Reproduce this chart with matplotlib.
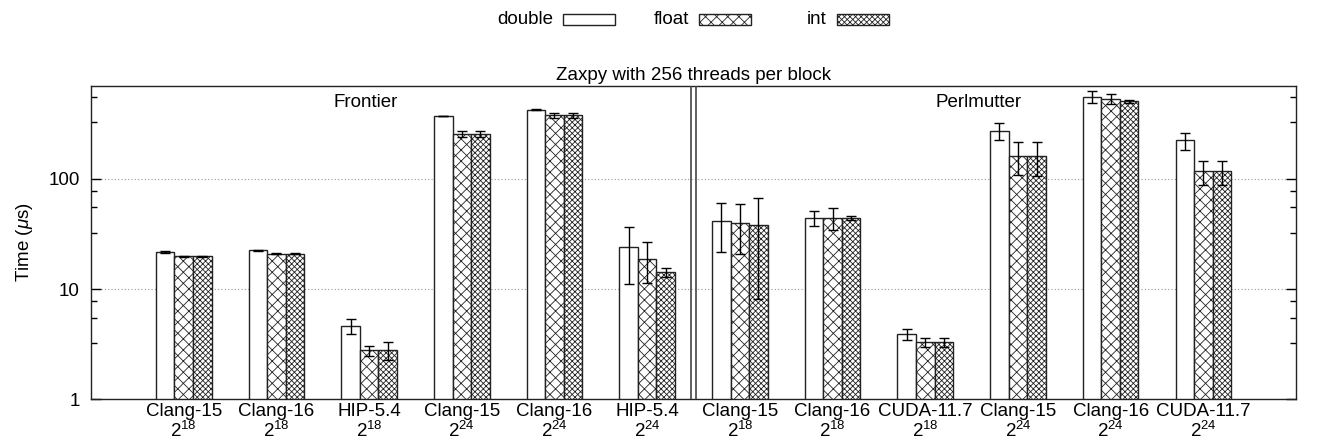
import numpy as np
import matplotlib
matplotlib.use("Agg")
import matplotlib.pyplot as plt
from matplotlib.patches import Rectangle

plt.rcParams.update({
    "font.family": ["Liberation Sans", "DejaVu Sans"],
    "font.size": 13.5,
    "mathtext.fontset": "custom",
    "mathtext.rm": "Liberation Sans",
    "mathtext.it": "Liberation Sans:italic",
    "mathtext.default": "regular",
    "hatch.linewidth": 0.6,
})

# ── data (log-scale microseconds)
compilers = ["Clang-15", "Clang-16", "HIP-5.4", "Clang-15", "Clang-16", "HIP-5.4",
             "Clang-15", "Clang-16", "CUDA-11.7", "Clang-15", "Clang-16", "CUDA-11.7"]
exponents = ["18", "18", "18", "24", "24", "24", "18", "18", "18", "24", "24", "24"]

double_mean = [21.7, 22.4, 4.61, 371, 424, 23.9, 41.2, 44.5, 3.90, 271, 556, 223]
double_lo = [21.4, 22.2, 3.92, 368, 420, 11.2, 21.7, 37.6, 3.44, 224, 490, 184]
double_hi = [22.0, 22.6, 5.37, 374, 428, 36.6, 60.0, 50.8, 4.30, 320, 622, 263]

float_mean = [19.8, 20.9, 2.79, 256, 376, 18.9, 39.8, 44.5, 3.30, 162, 530, 117]
float_lo = [19.6, 20.7, 2.49, 240, 359, 11.3, 20.8, 34.4, 3.00, 109, 476, 87.5]
float_hi = [20.0, 21.1, 3.07, 271, 392, 26.5, 59.3, 54.8, 3.63, 215, 589, 146]

int_mean = [19.9, 20.9, 2.79, 256, 376, 14.2, 38.2, 43.9, 3.30, 162, 505, 117]
int_lo = [19.7, 20.7, 2.28, 240, 359, 12.9, 8.2, 42.4, 3.00, 106, 484, 87.5]
int_hi = [20.1, 21.1, 3.30, 271, 392, 15.4, 67.6, 45.7, 3.63, 215, 523, 146]

series = [
    ("double", double_mean, double_lo, double_hi, ""),
    ("float", float_mean, float_lo, float_hi, "xxx"),
    ("int", int_mean, int_lo, int_hi, "xxxxxx"),
]

BAR_W = 0.2
EDGE = "#222222"
W, H = 1329, 443

fig = plt.figure(figsize=(W / 100, H / 100), dpi=100)
ax = fig.add_axes([0.0685, 0.0986, 0.9067, 0.708])

x = np.arange(len(compilers))
for i, (name, mean, lo, hi, hatch) in enumerate(series):
    mean = np.array(mean)
    yerr = [mean - np.array(lo), np.array(hi) - mean]
    ax.bar(x + (i - 1) * BAR_W, mean, BAR_W, color="white", edgecolor=EDGE,
           linewidth=1.0, hatch=hatch, label=name, zorder=2,
           yerr=yerr, error_kw=dict(ecolor="black", elinewidth=1.0,
                                    capsize=3.5, capthick=1.0, zorder=3))

ax.set_yscale("log")
ax.set_ylim(1, 700)
ax.set_xlim(-1, 12)

ax.set_xticks(x)
ax.set_xticklabels([f"{c}\n2$^{{{e}}}$" for c, e in zip(compilers, exponents)],
                   linespacing=1.0)
ax.tick_params(axis="x", length=0, pad=3)

ax.set_yticks([1, 10, 100])
ax.set_yticklabels(["1", "10", "100"])
minor = [m * d for d in (1, 10, 100) for m in (3.25, 5.5, 7.75)]
ax.set_yticks([v for v in minor if v < 700], minor=True)
ax.yaxis.set_minor_formatter(matplotlib.ticker.NullFormatter())
ax.tick_params(axis="y", which="major", direction="in", length=7, width=1,
               left=True, right=True, pad=8)
ax.tick_params(axis="y", which="minor", direction="in", length=4, width=1,
               left=True, right=True)

ax.grid(axis="y", which="major", linestyle=(0, (1, 2)), color="#999999",
        linewidth=0.8, zorder=0)
ax.set_axisbelow(True)

for sp in ax.spines.values():
    sp.set_linewidth(1.0)
    sp.set_color(EDGE)

# double separator between the two machines
ax.axvline(5.47, color="#444444", linewidth=1.2, zorder=4)
ax.axvline(5.53, color="#444444", linewidth=1.2, zorder=4)

ax.text(1.96, 490, "Frontier", ha="center", va="center")
ax.text(8.58, 490, "Perlmutter", ha="center", va="center")

ax.set_title("Zaxpy with 256 threads per block", fontsize=13.5, pad=4)
ax.set_ylabel(r"Time ($\mathit{\mu}$s)", labelpad=10)

# gnuplot-style key: text right-aligned, sample box to its right
box_x0 = [563, 699, 837]
for (name, _, _, _, hatch), bx in zip(series, box_x0):
    fig.text((bx - 10) / W, 1 - 20 / H, name, ha="right", va="center")
    fig.patches.append(Rectangle((bx / W, 1 - 25 / H), 52 / W, 11 / H,
                                 transform=fig.transFigure, facecolor="white",
                                 edgecolor=EDGE, linewidth=1.0, hatch=hatch))

fig.savefig("out.png", dpi=100)
